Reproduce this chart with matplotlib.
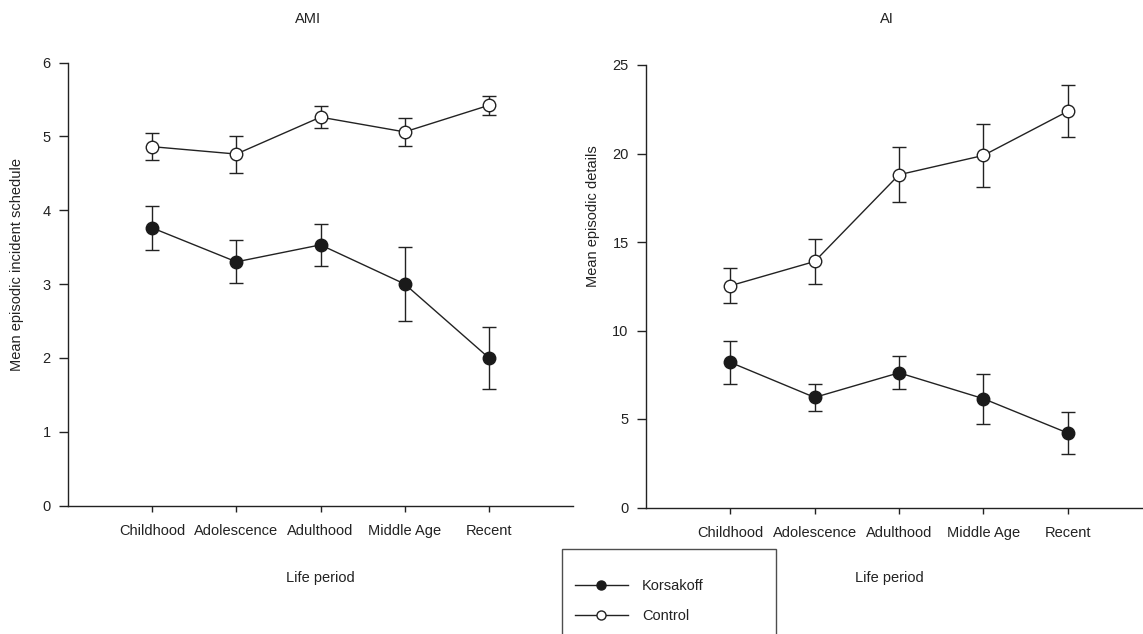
import numpy as np
import matplotlib
matplotlib.use('Agg')
import matplotlib.pyplot as plt
from matplotlib.lines import Line2D

plt.rcParams['font.family'] = ['Liberation Sans', 'DejaVu Sans']

# data
periods = ['Childhood', 'Adolescence', 'Adulthood', 'Middle Age', 'Recent']

ami_korsakoff = [3.76, 3.30, 3.53, 3.00, 2.00]
ami_korsakoff_err = [0.30, 0.29, 0.28, 0.50, 0.42]
ami_control = [4.86, 4.76, 5.26, 5.06, 5.42]
ami_control_err = [0.18, 0.25, 0.15, 0.19, 0.13]

ai_korsakoff = [8.20, 6.22, 7.61, 6.15, 4.21]
ai_korsakoff_err = [1.22, 0.75, 0.93, 1.41, 1.17]
ai_control = [12.53, 13.90, 18.80, 19.89, 22.38]
ai_control_err = [1.00, 1.27, 1.54, 1.78, 1.47]

W, H = 1143, 634
fig = plt.figure(figsize=(W/100, H/100), dpi=100)
ink = '#222222'
fs = 10.5

def panel(rect, kors, kors_err, ctrl, ctrl_err, yticks):
    ax = fig.add_axes(rect)
    x = np.arange(len(periods))
    ax.errorbar(x, kors, yerr=kors_err, color=ink, lw=1.0, marker='o', ms=9,
                mfc='#1a1a1a', mec='#1a1a1a', capsize=5, elinewidth=1.0,
                capthick=1.0, clip_on=False)
    ax.errorbar(x, ctrl, yerr=ctrl_err, color=ink, lw=1.0, marker='o', ms=9,
                mfc='white', mec=ink, mew=1.0, capsize=5, elinewidth=1.0,
                capthick=1.0, clip_on=False)
    ax.set_xlim(-1, 5)
    ax.set_ylim(yticks[0], yticks[-1])
    ax.set_xticks(x)
    ax.set_xticklabels(periods, fontsize=fs, color=ink)
    ax.set_yticks(yticks)
    ax.set_yticklabels([str(t) for t in yticks], fontsize=fs, color=ink)
    for s in ['top', 'right']:
        ax.spines[s].set_visible(False)
    for s in ['left', 'bottom']:
        ax.spines[s].set_color(ink)
        ax.spines[s].set_linewidth(1.0)
    ax.tick_params(axis='y', direction='out', length=6.5, width=1.0, color=ink, pad=6)
    ax.tick_params(axis='x', direction='out', length=4.5, width=1.0, color=ink, pad=9)
    return ax

def fx(px):
    return px / W

def fy(py):
    return 1 - py / H

ax1 = panel([fx(68), fy(505.5), fx(573 - 68), (505.5 - 62.5) / H],
            ami_korsakoff, ami_korsakoff_err, ami_control, ami_control_err,
            [0, 1, 2, 3, 4, 5, 6])
ax2 = panel([fx(646), fy(507.5), fx(506), (507.5 - 65) / H],
            ai_korsakoff, ai_korsakoff_err, ai_control, ai_control_err,
            [0, 5, 10, 15, 20, 25])

fig.text(fx(308), fy(19), 'AMI', ha='center', va='center', fontsize=fs, color=ink)
fig.text(fx(887), fy(19), 'AI', ha='center', va='center', fontsize=fs, color=ink)
fig.text(fx(17), fy(264), 'Mean episodic incident schedule', rotation=90,
         ha='center', va='center', fontsize=fs, color=ink)
fig.text(fx(593), fy(216), 'Mean episodic details', rotation=90,
         ha='center', va='center', fontsize=fs, color=ink)
fig.text(fx(320), fy(578), 'Life period', ha='center', va='center', fontsize=fs, color=ink)
fig.text(fx(889), fy(578), 'Life period', ha='center', va='center', fontsize=fs, color=ink)

handles = [Line2D([], [], color=ink, lw=1.0, marker='o', ms=6.5, mfc='#1a1a1a', mec='#1a1a1a'),
           Line2D([], [], color=ink, lw=1.0, marker='o', ms=6.5, mfc='white', mec=ink)]
leg = fig.legend(handles, ['Korsakoff', 'Control'], loc='upper left',
                 bbox_to_anchor=(fx(562), fy(549) - 0.01, fx(214), 0.01), mode='expand',
                 fontsize=fs, frameon=True, fancybox=False, borderaxespad=0,
                 borderpad=0.9, labelspacing=1.1, handlelength=3.6, handletextpad=1.0,
                 title=' ', title_fontsize=1)
leg.get_frame().set_edgecolor(ink)
leg.get_frame().set_linewidth(1.0)
for t in leg.get_texts():
    t.set_color(ink)

fig.savefig('out.png', dpi=100)
